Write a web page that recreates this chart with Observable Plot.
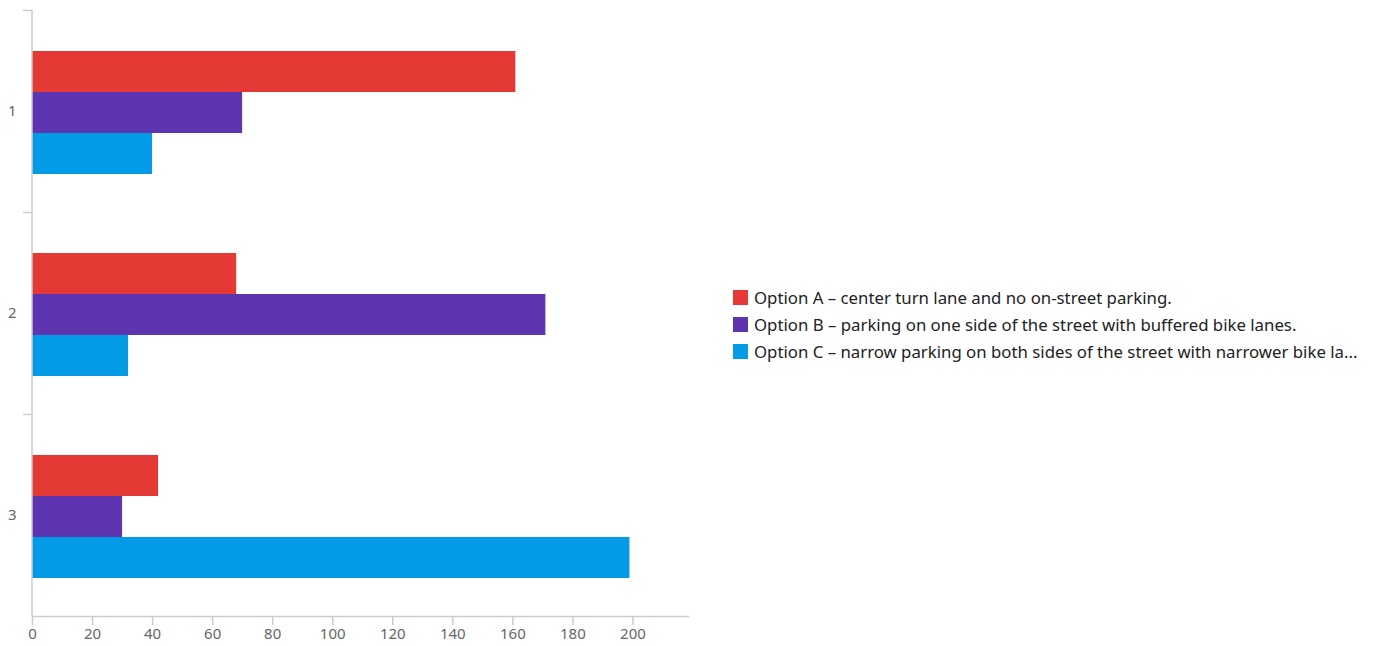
<!DOCTYPE html>
<html><head><meta charset="utf-8">
<script src="https://cdn.jsdelivr.net/npm/d3@7"></script>
<script src="https://cdn.jsdelivr.net/npm/@observablehq/plot@0.6"></script>
<style>
html,body{margin:0;padding:0;background:#fff;overflow:hidden}
#wrap{position:relative;width:1376px;height:646px}
#chart{position:absolute;left:0;top:0}
#legend{position:absolute;left:733px;top:284px;font-family:"Noto Sans",sans-serif;font-size:16.8px;color:#222}
.row{display:flex;align-items:center;height:27px;white-space:nowrap}
.sw{width:15px;height:15px;margin-right:6px;flex:none}
</style></head><body><div id="wrap"><div id="chart"></div><div id="legend"></div></div>
<script>
const categories = ["1", "2", "3"];
const seriesNames = [
  "Option A – center turn lane and no on-street parking.",
  "Option B – parking on one side of the street with buffered bike lanes.",
  "Option C – narrow parking on both sides of the street with narrower bike la..."
];
const valuesA = [161, 68, 42];
const valuesB = [70, 171, 30];
const valuesC = [40, 32, 199];
const seriesValues = [valuesA, valuesB, valuesC];
const colors = ["#e53935", "#5e35b1", "#039be5"];
const xTicks = [0, 20, 40, 60, 80, 100, 120, 140, 160, 180, 200];

const W = 700, H = 646, mt = 10, mb = 30;
const band = (H - mt - mb) / categories.length;
const barH = 41, padTop = 41;

const barMarks = seriesValues.map((vals, i) => {
  const rows = categories.map((c, j) => ({cat: c, value: vals[j]}));
  return Plot.barX(rows, {
    y: "cat", x: "value", fill: colors[i],
    insetTop: padTop + barH * i,
    insetBottom: band - padTop - barH * (i + 1)
  });
});

const chart = Plot.plot({
  width: W, height: H,
  marginTop: mt, marginBottom: mb, marginLeft: 32, marginRight: 12,
  style: {fontFamily: "Noto Sans, sans-serif", fontSize: "15px", background: "#fff"},
  x: {domain: [0, 218.5]},
  y: {domain: categories, padding: 0},
  marks: [
    ...barMarks,
    Plot.ruleX([0], {stroke: "#cccccc", strokeWidth: 1.5, dx: -0.5}),
    Plot.frame({anchor: "bottom", stroke: "#cccccc", strokeWidth: 1.5}),
    Plot.axisX(xTicks, {tickSize: 9, fill: "none", stroke: "#cccccc", strokeWidth: 1.5, label: null}),
    Plot.axisX(xTicks, {tickSize: 0, tickPadding: 12, fill: "#666", label: null}),
    Plot.axisY({tickSize: 9, fill: "none", stroke: "#cccccc", strokeWidth: 1.5, dy: -band / 2, label: null}),
    Plot.axisY({tickSize: 0, tickPadding: 16, fill: "#666", label: null})
  ]
});
document.getElementById("chart").appendChild(chart);

const legend = document.getElementById("legend");
seriesNames.forEach((name, i) => {
  const row = document.createElement("div");
  row.className = "row";
  const sw = document.createElement("span");
  sw.className = "sw";
  sw.style.background = colors[i];
  const t = document.createElement("span");
  t.textContent = name;
  row.appendChild(sw); row.appendChild(t);
  legend.appendChild(row);
});
</script></body></html>
